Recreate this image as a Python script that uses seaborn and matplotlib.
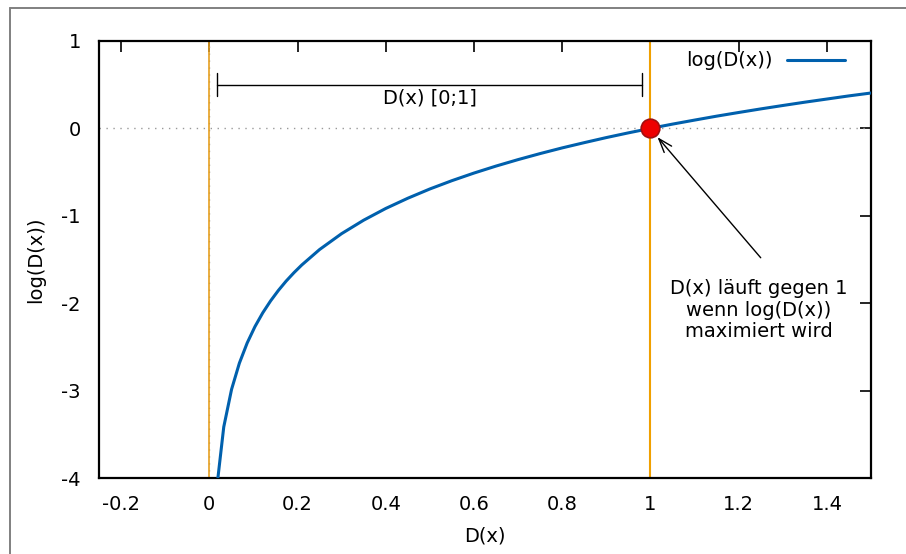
import numpy as np
import pandas as pd
import matplotlib
matplotlib.use("Agg")
import matplotlib.pyplot as plt
from matplotlib.lines import Line2D
import seaborn as sns

# Sampled values of log(D(x)) for D(x) in (0, 1.5]
d_values = [0.0152, 0.0328, 0.0505, 0.0682, 0.0859, 0.1035, 0.1212, 0.1389,
            0.1566, 0.1742, 0.1919, 0.2096, 0.25, 0.30, 0.35, 0.40, 0.45,
            0.50, 0.55, 0.60, 0.65, 0.70, 0.75, 0.80, 0.85, 0.90, 0.95,
            1.00, 1.05, 1.10, 1.15, 1.20, 1.25, 1.30, 1.35, 1.40, 1.45, 1.50]
log_d_values = [-4.190, -3.416, -2.986, -2.686, -2.455, -2.268, -2.110, -1.974,
                -1.854, -1.747, -1.651, -1.563, -1.386, -1.204, -1.050, -0.916,
                -0.799, -0.693, -0.598, -0.511, -0.431, -0.357, -0.288, -0.223,
                -0.163, -0.105, -0.051, 0.000, 0.049, 0.095, 0.140, 0.182,
                0.223, 0.262, 0.300, 0.336, 0.372, 0.405]

x_ticks = [-0.2, 0, 0.2, 0.4, 0.6, 0.8, 1, 1.2, 1.4]
x_tick_labels = ["-0.2", "0", "0.2", "0.4", "0.6", "0.8", "1", "1.2", "1.4"]
y_ticks = [-4, -3, -2, -1, 0, 1]
y_tick_labels = ["-4", "-3", "-2", "-1", "0", "1"]

bounds_x = [0, 1]          # limits of D(x)
optimum_x = [1]
optimum_y = [0]

sns.set_style("white")
plt.rcParams["font.family"] = ["DejaVu Sans"]
plt.rcParams.update({"text.color": "black", "axes.labelcolor": "black",
                     "xtick.color": "black", "ytick.color": "black"})

W, H = 906, 554
fig = plt.figure(figsize=(W / 100, H / 100), dpi=100)
ax = fig.add_axes([99 / W, (H - 478) / H, 772 / W, 437 / H])

df = pd.DataFrame({"D(x)": d_values, "log(D(x))": log_d_values})

# zero axes
ax.axhline(0, color="#999999", lw=1.0, ls=(0, (1, 4)), zorder=1)
ax.axvline(0, color="#999999", lw=1.0, ls=(0, (1, 4)), zorder=1)

# bounds of D(x)
ax.axvline(bounds_x[0], color="#e6a020", lw=1.2, zorder=1.5)
ax.axvline(bounds_x[1], color="#f0a000", lw=1.5, zorder=1.5)

sns.lineplot(data=df, x="D(x)", y="log(D(x))", ax=ax, color="#0060ad",
             lw=2.2, sort=False, label="log(D(x))", zorder=3)

sns.scatterplot(x=optimum_x, y=optimum_y, ax=ax, s=180, color="#ee0000",
                edgecolor="#a01010", linewidth=1.2, zorder=4, legend=False)

# interval bracket
ax.plot([0.018, 0.98], [0.5, 0.5], color="black", lw=1.0, zorder=3)
ax.plot([0.018, 0.018], [0.375, 0.635], color="black", lw=1.0, zorder=3)
ax.plot([0.98, 0.98], [0.375, 0.635], color="black", lw=1.0, zorder=3)
ax.text(0.5, 0.345, "D(x) [0;1]", ha="center", va="center", fontsize=14)

ax.annotate("", xy=(1.016, -0.10), xytext=(1.25, -1.48),
            arrowprops=dict(arrowstyle="->,head_length=1.0,head_width=0.35",
                            color="black", lw=1.0, shrinkA=0, shrinkB=0),
            zorder=5)
ax.text(1.245, -2.08, "D(x) läuft gegen 1\nwenn log(D(x))\nmaximiert wird",
        ha="center", va="center", fontsize=14, linespacing=1.15)

ax.set_xlim(-0.25, 1.5)
ax.set_ylim(-4, 1)
ax.set_xticks(x_ticks)
ax.set_xticklabels(x_tick_labels)
ax.set_yticks(y_ticks)
ax.set_yticklabels(y_tick_labels)
ax.tick_params(direction="in", length=8, width=1.2, labelsize=14,
               top=True, right=True, color="black", labelcolor="black")
ax.tick_params(axis="y", pad=13)
ax.tick_params(axis="x", pad=12)
for s in ax.spines.values():
    s.set_visible(True)
    s.set_color("black")
    s.set_linewidth(1.6)

ax.set_xlabel("D(x)", fontsize=14, labelpad=9)
ax.set_ylabel("log(D(x))", fontsize=14, labelpad=12)

leg = ax.legend(loc="center right", bbox_to_anchor=(845 / W, 1 - 61 / H),
                bbox_transform=fig.transFigure, frameon=False, fontsize=14,
                markerfirst=False, handlelength=3.0, handletextpad=0.7,
                borderpad=0, borderaxespad=0)

# outer frame
fig.add_artist(Line2D([9.5 / W, 1], [1 - 7.5 / H, 1 - 7.5 / H],
                      transform=fig.transFigure, color="#808080", lw=1.4))
fig.add_artist(Line2D([9.5 / W, 9.5 / W], [0, 1 - 7.5 / H],
                      transform=fig.transFigure, color="#808080", lw=1.4))

fig.savefig("out.png", dpi=100, facecolor="white")
